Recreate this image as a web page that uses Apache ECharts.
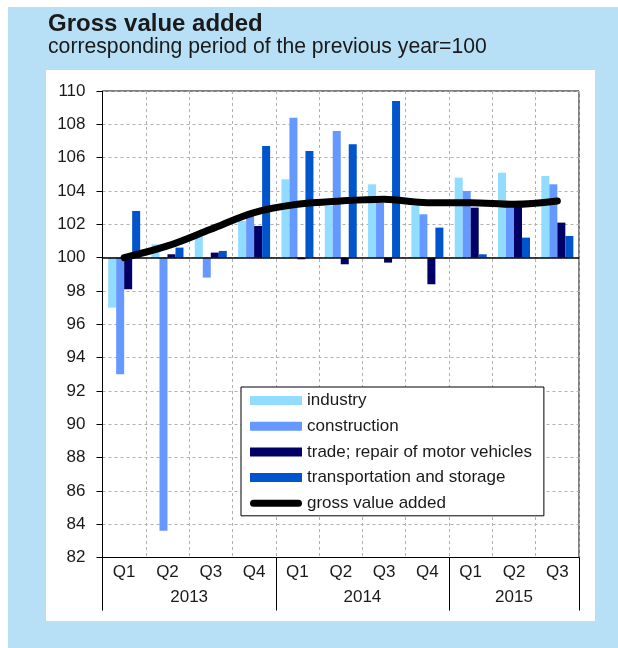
<!DOCTYPE html>
<html>
<head>
<meta charset="utf-8">
<script src="https://cdn.jsdelivr.net/npm/echarts@6/dist/echarts.min.js"></script>
<style>
html,body{margin:0;padding:0;background:#fff;}
#chart{width:618px;height:648px;}
</style>
</head>
<body>
<div id="chart"></div>
<script>
// ---- data ----
const quarters = ['Q1','Q2','Q3','Q4','Q1','Q2','Q3','Q4','Q1','Q2','Q3'];
const years = ['2013','2014','2015'];
const quartersPerYear = [4, 4, 3];
const yTickLabels = [82,84,86,88,90,92,94,96,98,100,102,104,106,108,110];
const industry     = [97.0, 100.8, 101.3, 102.2, 104.7, 103.1, 104.4, 103.1, 104.8, 105.1, 104.9];
const construction = [93.0,  83.6,  98.8, 102.5, 108.4, 107.6, 103.3, 102.6, 104.0, 103.4, 104.4];
const trade        = [98.1, 100.2, 100.3, 101.9,  99.9,  99.6,  99.7,  98.4, 103.0, 103.3, 102.1];
const transport    = [102.8, 100.6, 100.4, 106.7, 106.4, 106.8, 109.4, 101.8, 100.2, 101.2, 101.3];
const gva          = [100.0, 100.7, 101.7, 102.7, 103.2, 103.4, 103.5, 103.3, 103.3, 103.2, 103.4];
const BASE = 100;

// ---- derived ----
const yearBounds = [0];
quartersPerYear.forEach(n => yearBounds.push(yearBounds[yearBounds.length-1] + n));
const yearCenters = quartersPerYear.map((n, i) => yearBounds[i] + n / 2);
const rel = arr => arr.map(v => +(v - BASE).toFixed(3));

const FONT = '"Liberation Sans", Arial, sans-serif';
const TXT = '#1a1a1a';

const chart = echarts.init(document.getElementById('chart'), null, {renderer: 'canvas'});

const barSeries = (name, data, color) => ({
  name, type: 'bar', data: rel(data), barWidth: 8, barGap: '0%',
  itemStyle: {color}, z: 2,
  xAxisIndex: 0, yAxisIndex: 0
});

const capsule = 'path://M3.5,0 H48.5 A3.5,3.5 0 0 1 48.5,7 H3.5 A3.5,3.5 0 0 1 3.5,0 Z';

chart.setOption({
  backgroundColor: '#fff',
  animation: false,
  graphic: [
    {type: 'rect', shape: {x: 8, y: 7, width: 610, height: 641}, style: {fill: '#b7e0f6'}, z: -10, silent: true},
    {type: 'rect', shape: {x: 46, y: 70, width: 549, height: 551}, style: {fill: '#ffffff'}, z: -9, silent: true}
  ],
  title: [
    {text: 'Gross value added', left: 48, top: 12, padding: 0,
     textStyle: {fontFamily: FONT, fontSize: 24, fontWeight: 'bold', color: TXT}},
    {text: 'corresponding period of the previous year=100', left: 48, top: 37, padding: 0,
     textStyle: {fontFamily: FONT, fontSize: 21.2, fontWeight: 'normal', color: TXT}}
  ],
  legend: {
    orient: 'vertical', left: 241, top: 387,
    padding: [5, 12, 4, 9],
    backgroundColor: '#fff', borderColor: '#000', borderWidth: 1,
    itemWidth: 52, itemHeight: 9, itemGap: 8.7,
    textStyle: {fontFamily: FONT, fontSize: 17, color: TXT, lineHeight: 17},
    data: [
      {name: 'industry', icon: 'rect'},
      {name: 'construction', icon: 'rect'},
      {name: 'trade; repair of motor vehicles', icon: 'rect'},
      {name: 'transportation and storage', icon: 'rect'},
      {name: 'gross value added', icon: capsule, itemStyle: {color: '#000'}}
    ],
    z: 10
  },
  grid: {left: 102.5, right: 39, top: 91, bottom: 90.5, show: true, borderColor: '#000', borderWidth: 1, containLabel: false},
  xAxis: [
    {
      type: 'category', data: quarters, position: 'bottom', boundaryGap: true,
      axisLine: {onZero: false, lineStyle: {color: '#000', width: 1}},
      axisTick: {show: false},
      axisLabel: {fontFamily: FONT, fontSize: 17, color: TXT, margin: 6, interval: 0},
      splitLine: {show: true, lineStyle: {color: '#b0b0b0', type: [3, 3], width: 1}}
    },
    {
      type: 'value', min: 0, max: quarters.length, position: 'bottom', offset: 0,
      axisLine: {show: false, onZero: false},
      splitLine: {show: false},
      axisTick: {show: true, customValues: yearBounds, length: 53, lineStyle: {color: '#000', width: 1}},
      axisLabel: {show: true, customValues: yearCenters, fontFamily: FONT, fontSize: 17, color: TXT, margin: 31,
        formatter: v => { const i = yearCenters.indexOf(v); return i >= 0 ? years[i] : ''; }}
    }
  ],
  yAxis: {
    type: 'value',
    min: yTickLabels[0] - BASE, max: yTickLabels[yTickLabels.length-1] - BASE, interval: 2,
    axisLine: {show: true, lineStyle: {color: '#000', width: 1}},
    axisTick: {show: true, length: 6, lineStyle: {color: '#000'}},
    axisLabel: {fontFamily: FONT, fontSize: 17, color: TXT, margin: 17, formatter: v => String(Math.round(v + BASE))},
    splitLine: {show: true, lineStyle: {color: '#b0b0b0', type: [3, 3], width: 1}}
  },
  series: [
    barSeries('industry', industry, '#92dcff'),
    barSeries('construction', construction, '#6699ff'),
    barSeries('trade; repair of motor vehicles', trade, '#000066'),
    Object.assign(barSeries('transportation and storage', transport, '#0055cc'), {
      markLine: {
        silent: true, symbol: 'none', label: {show: false},
        lineStyle: {color: '#000', type: 'solid', width: 1.5},
        data: [{yAxis: 0}]
      }
    }),
    {
      name: 'gross value added', type: 'line', data: rel(gva), smooth: 0.35,
      symbol: 'none', z: 5,
      lineStyle: {color: '#000', width: 7, cap: 'round', join: 'round'},
      itemStyle: {color: '#000'}
    }
  ]
});
</script>
</body>
</html>
